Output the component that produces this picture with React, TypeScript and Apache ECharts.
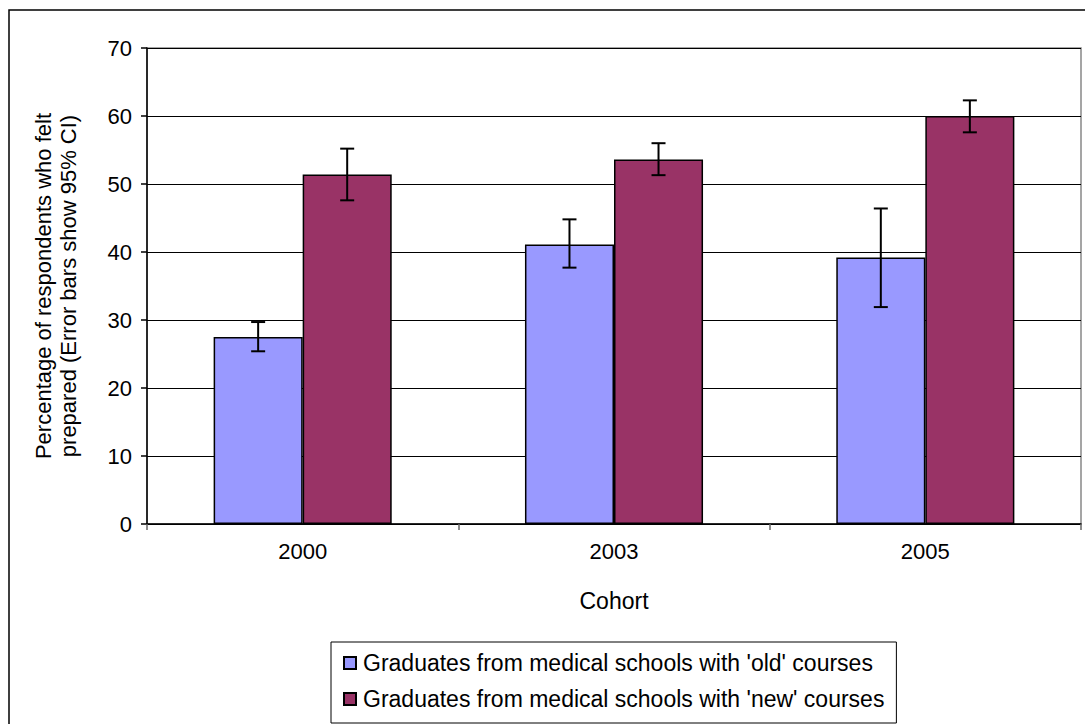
import React, { useEffect, useRef } from "react";
import * as echarts from "echarts";

const categories = ["2000", "2003", "2005"];
const oldNames = "Graduates from medical schools with 'old' courses";
const newNames = "Graduates from medical schools with 'new' courses";
const oldValues = [27.5, 41.1, 39.2];
const newValues = [51.4, 53.6, 60.0];
const oldLow = [25.4, 37.7, 31.9];
const oldHigh = [29.7, 44.8, 46.4];
const newLow = [47.6, 51.3, 57.6];
const newHigh = [55.2, 56.0, 62.3];
const yTicks = [0, 10, 20, 30, 40, 50, 60, 70];

const BAR_FRAC = 0.286;

function errorSeries(name: string, lows: number[], highs: number[], side: number) {
  return {
    type: "custom",
    name,
    z: 10,
    silent: true,
    encode: { x: 0, y: [1, 2] },
    data: categories.map((_, i) => [i, lows[i], highs[i]]),
    renderItem: (params: any, api: any) => {
      const idx = api.value(0);
      const lo = api.coord([idx, api.value(1)]);
      const hi = api.coord([idx, api.value(2)]);
      const band = api.size([1, 0])[0];
      const x = lo[0] + side * band * BAR_FRAC / 2;
      const cap = 7;
      const style = { stroke: "#000", lineWidth: 2 };
      return {
        type: "group",
        children: [
          { type: "line", shape: { x1: x, y1: hi[1], x2: x, y2: lo[1] }, style },
          { type: "line", shape: { x1: x - cap, y1: hi[1], x2: x + cap, y2: hi[1] }, style },
          { type: "line", shape: { x1: x - cap, y1: lo[1], x2: x + cap, y2: lo[1] }, style },
        ],
      };
    },
  };
}

export default function App() {
  const ref = useRef<HTMLDivElement>(null);
  useEffect(() => {
    if (!ref.current) return;
    const chart = echarts.init(ref.current, undefined, { renderer: "svg" });
    const font = "'Liberation Sans', Arial, sans-serif";
    chart.setOption({
      animation: false,
      backgroundColor: "#fff",
      textStyle: { fontFamily: font },
      graphic: [
        {
          type: "rect",
          shape: { x: 9, y: 10, width: 1100, height: 730 },
          style: { fill: "none", stroke: "#000", lineWidth: 1.5 },
          z: -1,
        },
      ],
      grid: {
        left: 147,
        right: 4,
        top: 48,
        bottom: 200,
        show: true,
        borderColor: "#888",
        borderWidth: 1.5,
        backgroundColor: "#fff",
      },
      legend: {
        orient: "vertical",
        left: 331,
        top: 642,
        data: [oldNames, newNames],
        itemWidth: 12,
        itemHeight: 12,
        itemGap: 12,
        padding: [9, 12, 12, 12],
        borderColor: "#000",
        borderWidth: 1,
        backgroundColor: "#fff",
        icon: "rect",
        textStyle: { fontSize: 23, color: "#000", fontFamily: font, lineHeight: 24, padding: [0, 0, 0, 2] },
      },
      xAxis: {
        type: "category",
        data: categories,
        name: "Cohort",
        nameLocation: "middle",
        nameGap: 65,
        nameTextStyle: { fontSize: 23, color: "#000", fontFamily: font },
        axisLine: { lineStyle: { color: "#000", width: 1.5 } },
        axisTick: { show: true, length: 6, lineStyle: { color: "#666", width: 1.5 } },
        axisLabel: { fontSize: 22, color: "#000", margin: 16, fontFamily: font },
      },
      yAxis: {
        type: "value",
        min: 0,
        max: 70,
        interval: 10,
        name: "Percentage of respondents who felt\nprepared (Error bars show 95% CI)",
        nameLocation: "middle",
        nameGap: 66,
        nameTextStyle: { fontSize: 22, color: "#000", fontFamily: font, lineHeight: 25 },
        axisLine: { show: true, lineStyle: { color: "#000", width: 1.5 } },
        axisTick: { show: true, length: 6, lineStyle: { color: "#000", width: 1.5 } },
        axisLabel: {
          fontSize: 22,
          color: "#000",
          margin: 15,
          fontFamily: font,
          formatter: (v: number) => (yTicks.includes(v) ? String(v) : ""),
        },
        splitLine: { show: true, lineStyle: { color: "#000", width: 1.2 } },
      },
      series: [
        {
          type: "bar",
          name: oldNames,
          data: oldValues,
          barWidth: (BAR_FRAC * 100).toFixed(1) + "%",
          barGap: "0%",
          itemStyle: { color: "#9999FF", borderColor: "#000", borderWidth: 1.5 },
        },
        {
          type: "bar",
          name: newNames,
          data: newValues,
          barWidth: (BAR_FRAC * 100).toFixed(1) + "%",
          barGap: "0%",
          itemStyle: { color: "#993366", borderColor: "#000", borderWidth: 1.5 },
        },
        errorSeries("errOld", oldLow, oldHigh, -1),
        errorSeries("errNew", newLow, newHigh, 1),
      ],
    });
    return () => chart.dispose();
  }, []);
  return (
    <div
      ref={ref}
      style={{ position: "absolute", left: 0, top: 0, width: 1085, height: 724 }}
    />
  );
}
